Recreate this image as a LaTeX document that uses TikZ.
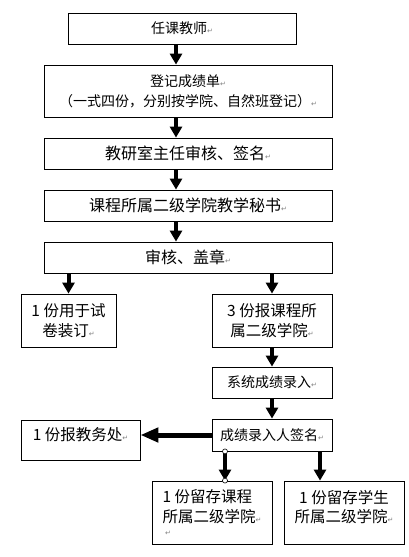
\documentclass[tikz,border=0pt]{standalone}
\usepackage{fontspec}
\setmainfont{Noto Sans CJK SC}
\newfontfamily\markfont{DejaVu Sans}
\usetikzlibrary{arrows.meta}
\newcommand\pmk{{\markfont\fontsize{7}{7}\selectfont\textcolor{gray}{↵}}}

\begin{document}
\begin{tikzpicture}[x=1pt,y=-1pt,
    box/.style={draw,line width=0.8pt,align=center,inner sep=0pt},
    arr/.style={line width=4pt,-{Triangle[width=12pt,length=11pt]}},
    fat/.style={line width=5pt,-{Triangle[width=14pt,length=18pt]}},
    big/.style={font=\fontsize{16}{20}\selectfont},
    mid/.style={font=\fontsize{15.5}{19.5}\selectfont},
    small/.style={font=\fontsize{14}{20}\selectfont}]
    \useasboundingbox (0,0) rectangle (408,557);

    % Main column
    \node[box,small,minimum width=228pt,minimum height=31pt] (teacher) at (182,28.5) {任课教师\pmk};
    \node[box,small,minimum width=288pt,minimum height=52pt] (sheet) at (188,91)
        {登记成绩单\pmk\\（一式四份，分别按学院、自然班登记）\pmk};
    \node[box,big,minimum width=288pt,minimum height=31pt] (head) at (188,153.5) {教研室主任审核、签名\pmk};
    \node[box,big,minimum width=288pt,minimum height=31pt] (secr) at (188,205.5) {课程所属二级学院教学秘书\pmk};
    \node[box,big,minimum width=288pt,minimum height=31pt] (stamp) at (188,257.5) {审核、盖章\pmk};
    \coordinate (colA) at (176,0);

    % Copies
    \node[box,mid,minimum width=95pt,minimum height=53pt] (bind) at (68.5,320.5) {1 份用于试\\卷装订\pmk};
    \node[box,mid,minimum width=120pt,minimum height=53pt] (college) at (272,320.5) {3 份报课程所\\属二级学院\pmk};
    \node[box,small,minimum width=120pt,minimum height=31pt] (entry) at (272,382.5) {系统成绩录入\pmk};
    \node[box,small,minimum width=120pt,minimum height=32pt] (sign) at (272,435) {成绩录入人签名\pmk};
    \node[box,mid,minimum width=119pt,minimum height=40pt,text depth=12pt] (office) at (80.5,440) {1 份报教务处\pmk};
    \node[box,mid,align=left,minimum width=120pt,minimum height=63pt] (keepC) at (212,512.5)
        {1 份留存课程\\所属二级学院\pmk\\[-6pt]\,\pmk};
    \node[box,mid,minimum width=120pt,minimum height=63pt,text depth=12pt] (keepS) at (344,512.5)
        {1 份留存学生\\所属二级学院\pmk};
    \coordinate (colC) at (225,0);
    \coordinate (colD) at (320,0);

    % Arrows
    \foreach \a/\b in {teacher/sheet,sheet/head,head/secr,secr/stamp}
        \draw[arr] (\a.south -| colA) -- (\b.north -| colA);
    \draw[arr] (stamp.south -| bind) -- (bind.north);
    \draw[arr] (stamp.south -| college) -- (college.north);
    \draw[arr] (college) -- (entry);
    \draw[arr] (entry) -- (sign);
    \draw[fat] (sign.west) -- (office.east |- sign.west);
    \draw[arr] (sign.south -| colC) -- (keepC.north -| colC);
    \draw[arr] (sign.south -| colD) -- (keepS.north -| colD);

    % Handles
    \draw[fill=white,line width=0.6pt] (sign.south -| colC) circle (2.5pt);
    \draw[fill=white,line width=0.6pt] (keepC.north -| colC) circle (2.5pt);

\end{tikzpicture}
\end{document}
